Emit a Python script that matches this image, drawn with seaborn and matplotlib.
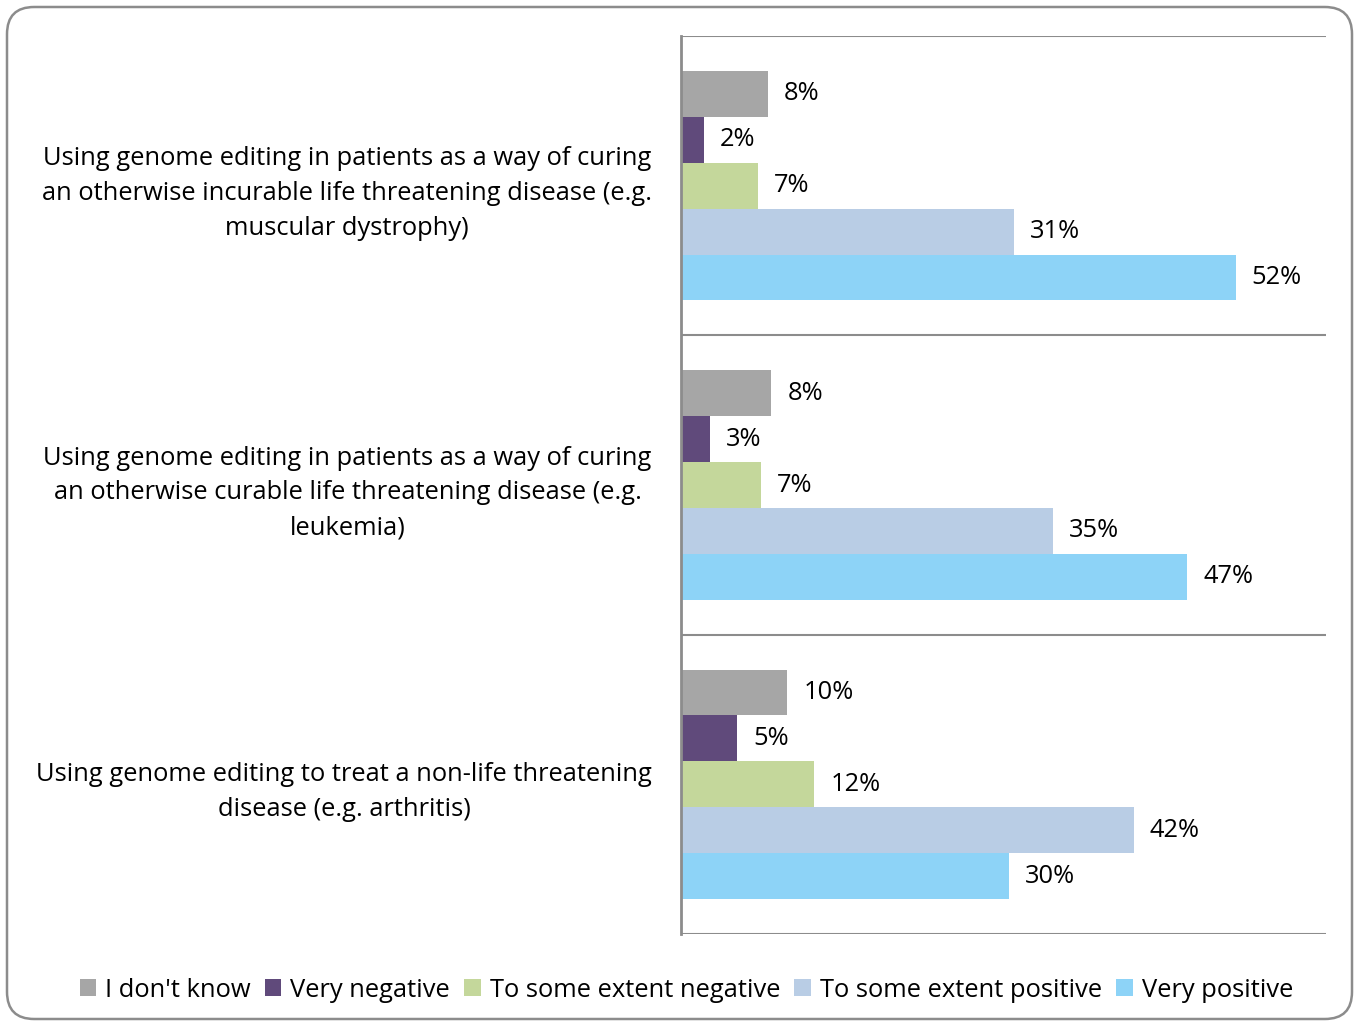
import numpy as np
import pandas as pd
import matplotlib
matplotlib.use("Agg")
import matplotlib.pyplot as plt
import seaborn as sns
from matplotlib.patches import FancyBboxPatch

categories = [
    "Using genome editing in patients as a way of curing\nan otherwise incurable life threatening disease (e.g.\nmuscular dystrophy)",
    "Using genome editing in patients as a way of curing\nan otherwise curable life threatening disease (e.g.\nleukemia)",
    "Using genome editing to treat a non-life threatening\ndisease (e.g. arthritis)",
]
responses = ["I don't know", "Very negative", "To some extent negative",
             "To some extent positive", "Very positive"]
dont_know = [8.1, 8.4, 9.9]
very_negative = [2.1, 2.7, 5.2]
some_negative = [7.2, 7.4, 12.4]
some_positive = [31.0, 34.6, 42.1]
very_positive = [51.6, 47.1, 30.5]
colors = ["#A6A6A6", "#604A7B", "#C4D79B", "#B9CDE5", "#8DD3F7"]

series = [dont_know, very_negative, some_negative, some_positive, very_positive]
rows = []
for resp, vals in zip(responses, series):
    for cat, v in zip(categories, vals):
        rows.append({"category": cat, "response": resp, "value": v})
df = pd.DataFrame(rows)

sns.set_style("white")
plt.rcParams['font.family'] = ['Open Sans', 'DejaVu Sans']
plt.rcParams['text.color'] = 'black'
plt.rcParams['ytick.labelcolor'] = 'black'

fs = 18.4

fig = plt.figure(figsize=(13.59, 10.26), dpi=100)
ax = fig.add_axes([681 / 1359, 1 - 934 / 1026, 645 / 1359, 898 / 1026])

sns.barplot(data=df, y="category", x="value", hue="response", order=categories,
            hue_order=responses, palette=colors, orient="h", width=0.767,
            saturation=1, ax=ax, linewidth=0)

for cont in ax.containers:
    ax.bar_label(cont, labels=[f"{v:.0f}%" for v in cont.datavalues],
                 padding=11.5, fontsize=fs, color="black")

ax.set_xlim(0, 60)
ax.set_ylim(2.5, -0.5)
ax.set_xlabel("")
ax.set_ylabel("")
ax.set_xticks([])
ax.tick_params(axis="y", which="major", length=0, pad=21, labelsize=fs)
for lab in ax.get_yticklabels():
    lab.set_multialignment("center")
    lab.set_linespacing(1.52)
ax.set_yticks([-0.5, 0.5, 1.5, 2.5], minor=True)
ax.tick_params(axis="y", which="minor", length=7, width=1.5, color="#8C8C8C")
ax.grid(True, axis="y", which="minor", color="#8C8C8C", linewidth=1.5)
for s in ["top", "right", "bottom"]:
    ax.spines[s].set_visible(False)
ax.spines["left"].set_color("#8C8C8C")
ax.spines["left"].set_linewidth(2)

ax.legend(loc="center", bbox_to_anchor=(0.505, 0.035), bbox_transform=fig.transFigure,
          ncol=5, frameon=False, fontsize=fs, handlelength=0.65, handleheight=0.65,
          handletextpad=0.35, columnspacing=0.55)

border = FancyBboxPatch((7 / 1359, 7 / 1026), 1345 / 1359, 1012 / 1026,
                        boxstyle="round,pad=0,rounding_size=0.02",
                        transform=fig.transFigure, fill=False,
                        edgecolor="#8C8C8C", linewidth=1.8,
                        mutation_aspect=1359 / 1026)
fig.patches.append(border)

fig.savefig("out.png", dpi=100)
